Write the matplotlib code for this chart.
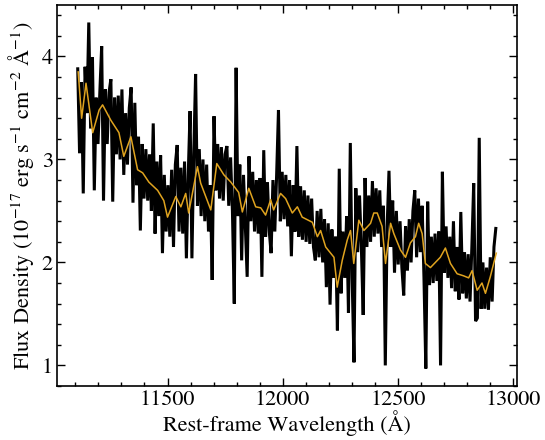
import numpy as np
import matplotlib
matplotlib.use("Agg")
import matplotlib.pyplot as plt
from matplotlib.ticker import MultipleLocator

# ---- data ----
# observed spectrum (8 Angstrom pixel grid starting at 11110 A)
wave_start = 11110
wave_step = 8
flux = [
    3.88, 3.06, 3.75, 2.67, 3.90, 3.45, 4.33, 3.30, 3.99, 2.70,
    3.60, 3.15, 3.65, 4.10, 2.60, 3.68, 3.15, 3.65, 3.78, 2.59,
    3.60, 3.05, 3.62, 3.00, 3.68, 2.85, 3.45, 2.95, 3.50, 3.70,
    2.58, 3.55, 2.75, 3.22, 2.31, 3.15, 2.62, 3.10, 2.60, 3.05,
    2.50, 3.35, 2.28, 2.98, 2.45, 3.04, 2.09, 2.85, 2.30, 2.75,
    2.25, 2.90, 2.15, 2.95, 3.14, 2.30, 2.92, 2.28, 2.98, 2.04,
    2.85, 3.47, 2.04, 3.05, 3.83, 2.55, 3.10, 2.45, 3.00, 2.40,
    2.95, 2.30, 2.75, 1.83, 3.42, 2.70, 3.15, 2.62, 3.12, 2.60,
    3.05, 3.13, 2.55, 3.02, 2.50, 1.60, 3.89, 2.45, 2.95, 2.02,
    2.85, 2.35, 1.86, 3.03, 2.40, 2.88, 2.30, 2.80, 2.28, 2.82,
    1.86, 3.09, 2.25, 2.78, 2.30, 2.09, 2.80, 2.30, 2.85, 3.48,
    2.40, 2.88, 2.42, 2.85, 2.35, 2.80, 2.06, 2.75, 2.30, 3.13,
    2.25, 2.74, 2.22, 2.70, 2.20, 2.65, 2.18, 2.62, 2.15, 2.02,
    2.50, 2.05, 2.52, 2.00, 2.42, 1.76, 2.38, 1.59, 2.32, 1.85,
    2.25, 1.34, 2.91, 1.70, 2.30, 1.85, 2.45, 1.51, 3.16, 1.85,
    1.03, 2.72, 2.10, 2.65, 2.15, 1.49, 2.82, 2.15, 2.65, 2.20,
    2.79, 2.25, 2.72, 2.28, 2.70, 2.15, 2.55, 1.00, 2.35, 2.89,
    2.15, 2.60, 1.90, 2.50, 1.98, 2.40, 1.95, 1.68, 2.35, 1.92,
    2.42, 2.00, 2.50, 2.70, 2.05, 2.62, 2.10, 2.55, 1.85, 0.97,
    2.59, 1.78, 2.25, 1.80, 2.28, 1.82, 2.30, 1.00, 2.88, 1.90,
    2.35, 1.85, 2.25, 1.75, 2.40, 1.72, 2.15, 1.64, 2.49, 1.70,
    2.10, 1.65, 2.08, 1.62, 2.15, 2.77, 1.43, 1.46, 3.21, 1.55,
    2.00, 1.55, 1.95, 1.54, 2.05, 1.62, 2.15, 2.33,
]
wave = wave_start + wave_step * np.arange(len(flux))

# smoothed spectrum
smooth_wave = [
    11112, 11127, 11146, 11175, 11203, 11218, 11254, 11289, 11310, 11341,
    11370, 11392, 11419, 11457, 11484, 11500, 11536, 11558, 11579, 11592,
    11630, 11644, 11688, 11714, 11745, 11775, 11809, 11825, 11853, 11883,
    11905, 11926, 11948, 11961, 11991, 12013, 12042, 12064, 12085, 12129,
    12151, 12165, 12187, 12223, 12237, 12259, 12281, 12295, 12309, 12331,
    12353, 12382, 12396, 12411, 12432, 12447, 12469, 12483, 12512, 12534,
    12555, 12577, 12591, 12606, 12620, 12642, 12685, 12707, 12729, 12758,
    12786, 12808, 12823, 12845, 12866, 12881, 12902, 12928,
]
smooth_flux = [
    3.85, 3.40, 3.74, 3.26, 3.48, 3.53, 3.38, 3.26, 3.03, 3.22,
    2.90, 2.87, 2.78, 2.70, 2.60, 2.44, 2.64, 2.54, 2.67, 2.48,
    2.93, 2.77, 2.51, 2.96, 2.85, 2.78, 2.68, 2.49, 2.72, 2.54,
    2.53, 2.46, 2.61, 2.51, 2.67, 2.62, 2.48, 2.54, 2.44, 2.39,
    2.25, 2.31, 2.15, 2.05, 1.76, 2.02, 2.22, 2.31, 1.99, 2.41,
    2.31, 2.38, 2.48, 2.48, 2.35, 1.99, 2.38, 2.28, 2.12, 2.05,
    2.19, 2.25, 2.38, 2.28, 1.99, 1.95, 2.05, 2.14, 1.99, 1.89,
    1.87, 1.85, 1.92, 1.73, 1.80, 1.70, 1.86, 2.09,
]

# ---- styling ----
plt.rcParams['font.family'] = ['STIXGeneral', 'DejaVu Serif']
plt.rcParams['mathtext.fontset'] = 'stix'
plt.rcParams['font.size'] = 16

fig = plt.figure(figsize=(5.45, 4.40), dpi=100)
ax = fig.add_axes([0.1046, 0.1227, 0.844, 0.866])

ax.plot(wave, flux, color='black', lw=2.2, zorder=2, solid_joinstyle='bevel')
ax.plot(smooth_wave, smooth_flux, color='#DFA31F', lw=1.1, zorder=3)

ax.set_xlim(11020, 13018)
ax.set_ylim(0.8, 4.5)
ax.xaxis.set_major_locator(MultipleLocator(500))
ax.xaxis.set_minor_locator(MultipleLocator(100))
ax.yaxis.set_major_locator(MultipleLocator(1))
ax.yaxis.set_minor_locator(MultipleLocator(0.2))
ax.tick_params(which='both', direction='in', top=True, right=True, width=1.0)
ax.tick_params(which='major', length=5.5, pad=3)
ax.tick_params(which='minor', length=3)
for s in ax.spines.values():
    s.set_linewidth(1.2)

ax.set_xlabel('Rest-frame Wavelength (Å)', labelpad=0)
ax.set_ylabel(r'Flux Density (10$^{-17}$ erg s$^{-1}$ cm$^{-2}$ Å$^{-1}$)', labelpad=4)

fig.savefig('out.png', dpi=100)
